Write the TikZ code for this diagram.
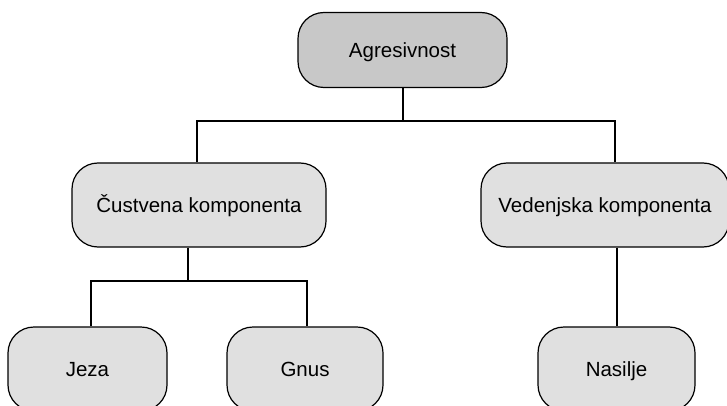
\documentclass[tikz,border=0pt]{standalone}
\usepackage{fontspec}
\setmainfont{Liberation Sans}
\definecolor{rootfill}{HTML}{C8C8C8}
\definecolor{boxfill}{HTML}{E0E0E0}
\begin{document}
\begin{tikzpicture}[x=1pt,y=-1pt,
  box/.style={draw=black, line width=1.2pt, fill=boxfill, rounded corners=26pt,
    inner sep=0pt, minimum height=84pt, text height=14.7pt, text depth=0pt,
    font=\fontsize{20.5pt}{24pt}\selectfont},
  rootbox/.style={box, fill=rootfill, minimum height=75pt},
  link/.style={draw=black, line width=2pt}]
  \clip (0,0) rectangle (727,406);
  \fill[white] (0,0) rectangle (727,406);

  % hierarchy
  \node[rootbox, minimum width=209pt] (agr)  at (402.5,50)  {Agresivnost};
  \node[box, minimum width=254pt]     (cust) at (199,205)   {Čustvena komponenta};
  \node[box, minimum width=248pt]     (ved)  at (605,205)   {Vedenjska komponenta};
  \node[box, minimum width=159pt]     (jeza) at (87.5,369)  {Jeza};
  \node[box, minimum width=156pt]     (gnus) at (305,369)   {Gnus};
  \node[box, minimum width=157pt]     (nas)  at (616.5,369) {Nasilje};

  % branch points
  \path (agr.south) ++(0,32.5) coordinate (top);
  \path ([xshift=-11pt]cust.south) ++(0,33) coordinate (low);

  % connectors
  \draw[link] (agr.south) -- (top);
  \draw[link] ([xshift=-2pt]cust.north) |- (top) -| ([xshift=10pt]ved.north);
  \draw[link] ([xshift=-11pt]cust.south) -- (low);
  \draw[link] ([xshift=3.5pt]jeza.north) |- (low) -| ([xshift=2pt]gnus.north);
  \draw[link] (ved.south -| nas.north) -- (nas.north);
\end{tikzpicture}
\end{document}
